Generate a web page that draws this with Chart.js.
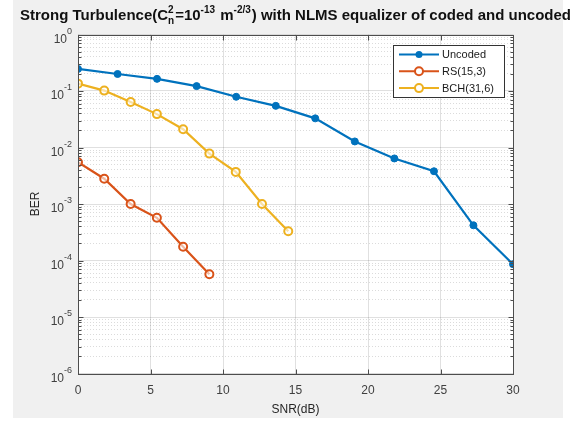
<!DOCTYPE html>
<html>
<head>
<meta charset="utf-8">
<script src="https://cdn.jsdelivr.net/npm/chart.js@4/dist/chart.umd.min.js"></script>
<style>
  html, body { margin: 0; padding: 0; background: #fff; }
  canvas { display: block; }
</style>
</head>
<body>
<canvas id="myChart" width="573" height="423"></canvas>
<script>
// дані з графіка
var seriesNames = ['Uncoded', 'RS(15,3)', 'BCH(31,6)'];
var seriesColors = ['#0072BD', '#D95319', '#EDB120'];

var snrUncoded = [0, 2.73, 5.45, 8.18, 10.91, 13.64, 16.36, 19.09, 21.82, 24.55, 27.27, 30];
var berUncoded = [0.246, 0.20, 0.164, 0.122, 0.079, 0.0546, 0.0328, 0.0128, 0.0064, 0.0038, 4.2e-4, 8.6e-5];

var snrCoded = [0, 1.81, 3.63, 5.44, 7.25, 9.06, 10.88, 12.69, 14.5];
var berRS = [0.0055, 0.0028, 0.00100, 5.7e-4, 1.75e-4, 5.7e-5];
var berBCH = [0.135, 0.1016, 0.064, 0.039, 0.0211, 0.0078, 0.0037, 1.0e-3, 3.3e-4];

var xTicks = [0, 5, 10, 15, 20, 25, 30];
var yDecades = [-6, -5, -4, -3, -2, -1, 0];

var FONT = '"Liberation Sans", Arial, Helvetica, sans-serif';

function pts(xs, ys) {
    return ys.map(function (y, i) { return { x: xs[i], y: y }; });
}

function isDecade(v) {
    var l = Math.log10(v);
    return Math.abs(l - Math.round(l)) < 1e-9;
}

// фон фігури (сірий) і біле поле графіка
var bgPlugin = {
    id: 'bg',
    beforeDraw: function (chart) {
        var c = chart.ctx, a = chart.chartArea;
        c.save();
        c.fillStyle = '#ffffff';
        c.fillRect(0, 0, chart.width, chart.height);
        c.fillStyle = '#f0f0f0';
        c.fillRect(13, 0, 550, 418);
        c.fillStyle = '#ffffff';
        c.fillRect(a.left, a.top, a.right - a.left, a.bottom - a.top);
        c.restore();
    },
    afterDatasetsDraw: function (chart) {
        var c = chart.ctx, a = chart.chartArea;
        var ys = chart.scales.y, xs = chart.scales.x;
        var L = Math.round(a.left) + 0.5, R = Math.round(a.right) + 0.5;
        var T = Math.round(a.top) + 0.5, B = Math.round(a.bottom) + 0.5;
        c.save();
        c.strokeStyle = '#4d4d4d';
        c.lineWidth = 1;
        c.beginPath();
        // рисочки на осях всередину
        ys.ticks.forEach(function (t) {
            var y = Math.round(ys.getPixelForValue(t.value)) + 0.5;
            var len = isDecade(t.value) ? 5 : 3;
            c.moveTo(L, y); c.lineTo(L + len, y);
            c.moveTo(R, y); c.lineTo(R - len, y);
        });
        xs.ticks.forEach(function (t) {
            var x = Math.round(xs.getPixelForValue(t.value)) + 0.5;
            c.moveTo(x, B); c.lineTo(x, B - 5);
            c.moveTo(x, T); c.lineTo(x, T + 5);
        });
        c.stroke();
        c.strokeRect(L, T, R - L, B - T);
        c.restore();
    }
};

// підписи осі Y у вигляді 10 зі степенем
var yLabelPlugin = {
    id: 'yLabels',
    afterDraw: function (chart) {
        var c = chart.ctx, ys = chart.scales.y;
        var right = chart.chartArea.left - 6;
        c.save();
        c.fillStyle = '#404040';
        c.textBaseline = 'alphabetic';
        ys.ticks.forEach(function (t) {
            if (!isDecade(t.value)) return;
            var y = ys.getPixelForValue(t.value);
            var e = String(Math.round(Math.log10(t.value)));
            c.font = '9px ' + FONT;
            var we = c.measureText(e).width;
            c.textAlign = 'left';
            c.fillText(e, right - we, y - 1);
            c.font = '12px ' + FONT;
            c.textAlign = 'right';
            c.fillText('10', right - we, y + 8);
        });
        c.restore();
    }
};

// заголовок з індексами
var titlePlugin = {
    id: 'matTitle',
    afterDraw: function (chart) {
        var c = chart.ctx;
        var parts = [
            { t: 'Strong Turbulence(C' },
            { up: '2', down: 'n' },
            { t: '=10' },
            { up: '-13' },
            { t: ' m' },
            { up: '-2/3' },
            { t: ') with NLMS equalizer of coded and uncoded' }
        ];
        var x = 20, y = 20;
        c.save();
        c.fillStyle = '#111';
        c.textBaseline = 'alphabetic';
        parts.forEach(function (p) {
            if (p.t) {
                c.font = 'bold 15px ' + FONT;
                c.fillText(p.t, x, y);
                x += c.measureText(p.t).width;
            } else {
                c.font = 'bold 10px ' + FONT;
                var w = c.measureText(p.up).width;
                c.fillText(p.up, x, y - 7);
                if (p.down) {
                    c.fillText(p.down, x, y + 4);
                    w = Math.max(w, c.measureText(p.down).width);
                }
                x += w + 1;
            }
        });
        c.restore();
    }
};

// легенда в правому верхньому куті
var legendPlugin = {
    id: 'matLegend',
    afterDraw: function (chart) {
        var c = chart.ctx;
        var bx = 393, by = 45, bw = 111, bh = 52;
        c.save();
        c.fillStyle = '#ffffff';
        c.fillRect(bx, by, bw, bh);
        c.strokeStyle = '#333';
        c.lineWidth = 1;
        c.strokeRect(bx + 0.5, by + 0.5, bw, bh);
        chart.data.datasets.forEach(function (ds, i) {
            var y = by + 9.5 + i * 16.8;
            c.strokeStyle = ds.borderColor;
            c.lineWidth = 2;
            c.beginPath();
            c.moveTo(399, y);
            c.lineTo(439, y);
            c.stroke();
            c.beginPath();
            c.arc(419, y, ds.pointRadius, 0, Math.PI * 2);
            if (i === 0) {
                c.fillStyle = ds.borderColor;
                c.fill();
            } else {
                c.fillStyle = '#ffffff';
                c.fill();
                c.lineWidth = 2;
                c.stroke();
            }
            c.fillStyle = '#1a1a1a';
            c.font = '11px ' + FONT;
            c.textBaseline = 'middle';
            c.fillText(ds.label, 442, y + 0.5);
        });
        c.restore();
    }
};

var ctx = document.getElementById('myChart').getContext('2d');
var myChart = new Chart(ctx, {
    type: 'line',
    data: {
        datasets: [
            {
                label: seriesNames[0],
                data: pts(snrUncoded, berUncoded),
                borderColor: seriesColors[0],
                backgroundColor: seriesColors[0],
                borderWidth: 2.2,
                pointRadius: 3.5,
                pointBorderWidth: 1,
                pointBackgroundColor: seriesColors[0]
            },
            {
                label: seriesNames[1],
                data: pts(snrCoded, berRS),
                borderColor: seriesColors[1],
                backgroundColor: '#ffffff',
                borderWidth: 2.2,
                pointRadius: 4,
                pointBorderWidth: 2,
                pointBackgroundColor: 'rgba(255,255,255,0.6)'
            },
            {
                label: seriesNames[2],
                data: pts(snrCoded, berBCH),
                borderColor: seriesColors[2],
                backgroundColor: '#ffffff',
                borderWidth: 2.2,
                pointRadius: 4,
                pointBorderWidth: 2,
                pointBackgroundColor: 'rgba(255,255,255,0.6)'
            }
        ]
    },
    options: {
        responsive: false,
        animation: false,
        devicePixelRatio: 1,
        layout: { padding: { top: 34.5, right: 60, bottom: 0, left: 0 } },
        plugins: {
            legend: { display: false },
            title: { display: false },
            tooltip: { enabled: false }
        },
        scales: {
            x: {
                type: 'linear',
                min: 0,
                max: 30,
                afterFit: function (s) { s.height = 49.5; },
                afterBuildTicks: function (s) {
                    s.ticks = xTicks.map(function (v) { return { value: v }; });
                },
                grid: { color: 'rgba(0,0,0,0.12)', drawTicks: false, lineWidth: 1 },
                border: { display: false },
                ticks: {
                    padding: 10,
                    color: '#404040',
                    font: { family: FONT, size: 12 }
                },
                title: {
                    display: true,
                    text: 'SNR(dB)',
                    color: '#262626',
                    font: { family: FONT, size: 12 },
                    padding: { top: 0, bottom: 6 }
                }
            },
            y: {
                type: 'logarithmic',
                min: 1e-6,
                max: 1,
                afterFit: function (s) { s.width = 78; },
                afterBuildTicks: function (s) {
                    var t = [];
                    yDecades.forEach(function (e) {
                        var ks = e === 0 ? [1] : [1, 2, 3, 4, 5, 6, 7, 8, 9];
                        ks.forEach(function (k) { t.push({ value: k * Math.pow(10, e) }); });
                    });
                    s.ticks = t;
                },
                grid: {
                    drawTicks: false,
                    lineWidth: 1,
                    color: function (c) {
                        if (!c.tick) return 'rgba(0,0,0,0.12)';
                        return isDecade(c.tick.value) ? 'rgba(0,0,0,0.12)' : 'rgba(0,0,0,0.14)';
                    }
                },
                border: {
                    display: false,
                    dash: function (c) {
                        if (!c.tick) return [];
                        return isDecade(c.tick.value) ? [] : [1, 2];
                    }
                },
                ticks: {
                    autoSkip: false,
                    padding: 6,
                    color: '#404040',
                    font: { family: FONT, size: 11 },
                    callback: function () { return ''; }
                },
                title: {
                    display: true,
                    text: 'BER',
                    color: '#262626',
                    font: { family: FONT, size: 12 },
                    padding: { top: 28, bottom: 0 }
                }
            }
        }
    },
    plugins: [bgPlugin, yLabelPlugin, titlePlugin, legendPlugin]
});
</script>
</body>
</html>
